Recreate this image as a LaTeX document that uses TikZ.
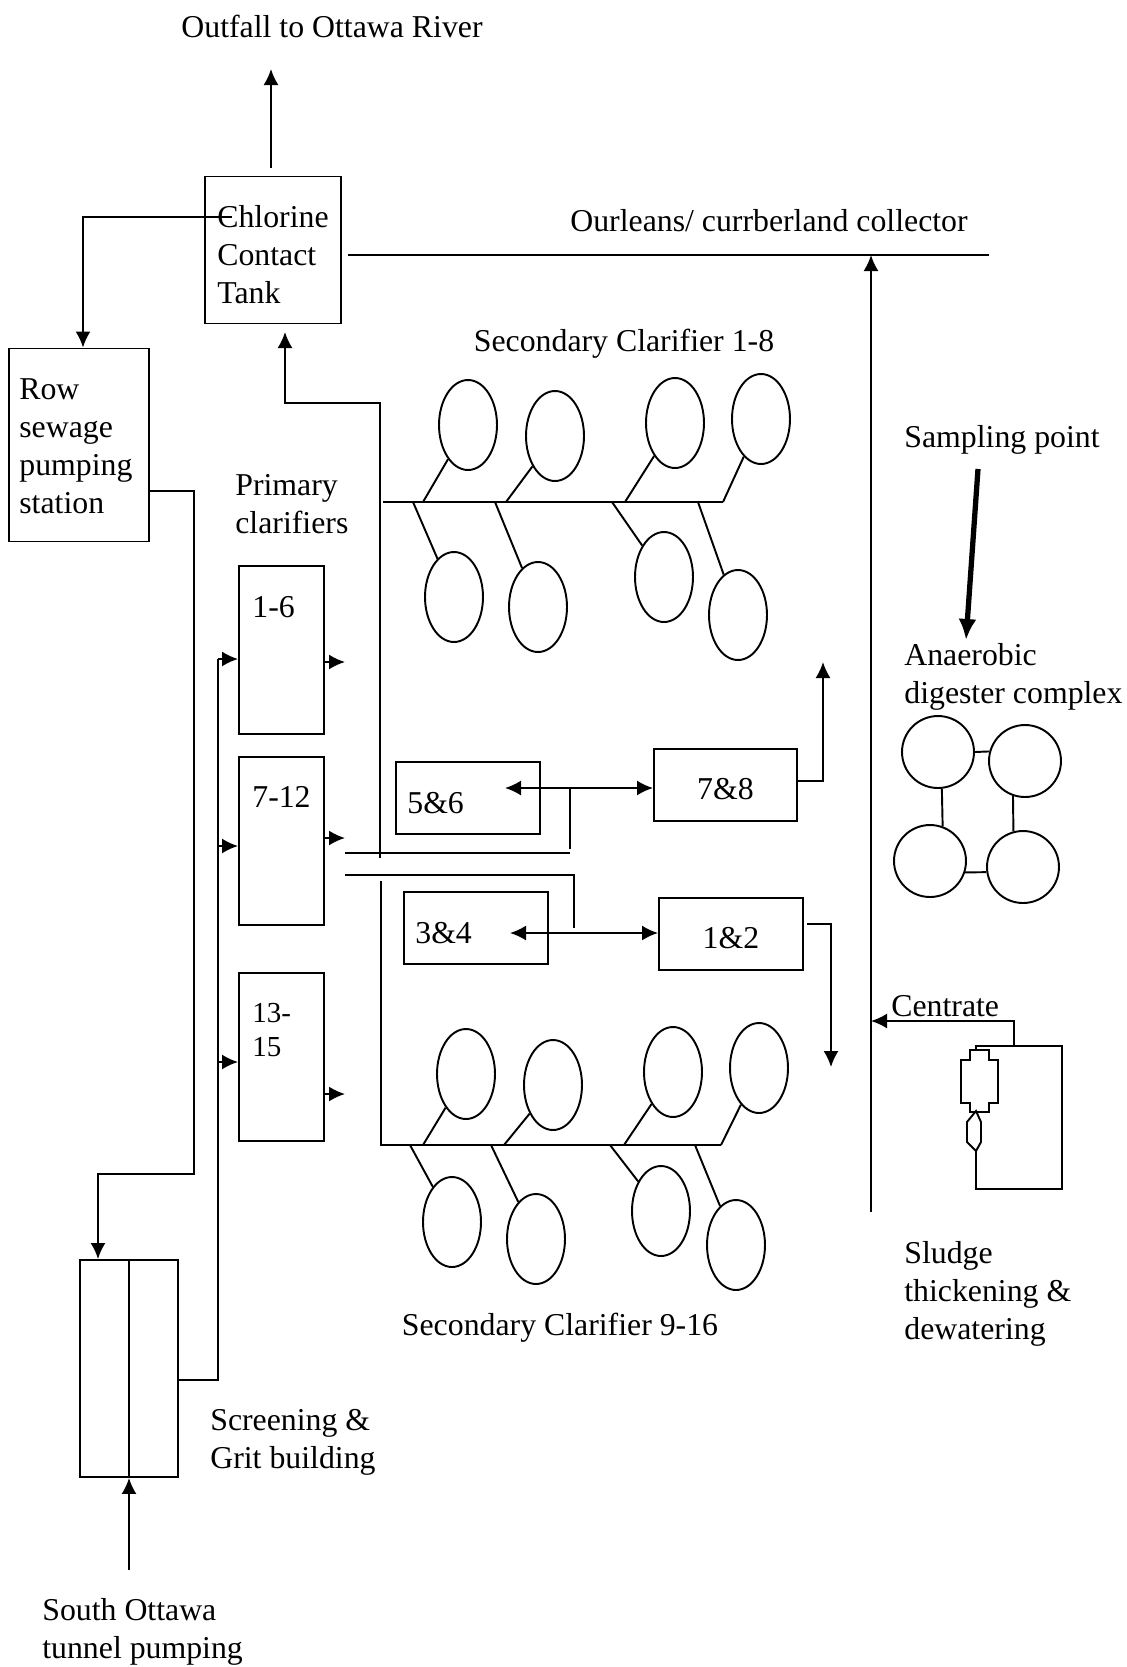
\documentclass[tikz,border=0pt]{standalone}
\usepackage{fontspec}
\setmainfont{Liberation Serif}
\usetikzlibrary{arrows.meta,shapes.geometric}
\tikzset{
  wire/.style={line width=1.1pt},
  flow/.style={wire,-{Latex[length=0.32cm,width=0.3cm]}},
  both/.style={wire,{Latex[length=0.32cm,width=0.3cm]}-{Latex[length=0.32cm,width=0.3cm]}},
  box/.style 2 args={draw,line width=1.1pt,inner sep=0pt,minimum width=#1*0.02cm,minimum height=#2*0.02cm},
  txt/.style={anchor=west,align=left,inner sep=0pt,font=\fontsize{18.1}{21.6}\selectfont},
  ctxt/.style={align=center,inner sep=0pt,font=\fontsize{18.1}{21.6}\selectfont},
  clarifier/.style={draw,line width=1.1pt,ellipse,inner sep=0pt,minimum width=1.16cm,minimum height=1.8cm},
  digester/.style={draw,line width=1.1pt,circle,inner sep=0pt,minimum size=1.44cm}
}
\begin{document}
\begin{tikzpicture}[x=0.02cm,y=-0.02cm]
\useasboundingbox (0,0) rectangle (1126,1667);

\node[box={136}{147}] (tank) at (273,250) {};
\node[box={140}{193}] (row) at (79,445) {};
\node[box={85}{168}] (pc1) at (281.5,650) {};
\node[box={85}{168}] (pc2) at (281.5,841) {};
\node[box={85}{168}] (pc3) at (281.5,1057) {};
\node[box={144}{72}] (b56) at (468,798) {};
\node[box={143}{72},ctxt] (b78) at (725.5,785) {\raisebox{-0.29cm}[0pt][0pt]{7\&8}};
\node[box={144}{72}] (b34) at (476,928) {};
\node[box={144}{72},ctxt] (b12) at (731,934) {\raisebox{-0.29cm}[0pt][0pt]{1\&2}};
\node[box={98}{217}] (screen) at (129,1368.5) {};

\node[ctxt] (outfall) at (332,26) {Outfall to Ottawa River};
\node[txt] (tanklbl) at (217,255) {Chlorine\\Contact\\Tank};
\node[txt] (rowlbl) at (19,446) {Row\\sewage\\pumping\\station};
\node[txt] (pclbl) at (235,504) {Primary\\clarifiers};
\node[txt] (lbl1) at (252,607) {1-6};
\node[txt] (lbl2) at (252,797) {7-12};
\node[txt,font=\fontsize{16.5}{19.2}\selectfont] (lbl3) at (252,1030) {13-\\15};
\node[txt] (lbl56) at (407,803) {5\&6};
\node[txt] (lbl34) at (415,933) {3\&4};
\node[ctxt] (collector) at (769,221) {Ourleans/ currberland collector};
\node[ctxt] (sectop) at (624,344) {Secondary Clarifier 1-8};
\node[ctxt] (secbot) at (560,1328) {Secondary Clarifier 9-16};
\node[ctxt] (sampling) at (1002,440) {Sampling point};
\node[txt] (anaerobic) at (904,677) {Anaerobic\\digester complex};
\node[txt] (centrate) at (891,1006) {Centrate};
\node[txt] (sludge) at (904,1294) {Sludge\\thickening \&\\dewatering};
\node[txt] (grit) at (210,1442) {Screening \&\\Grit building};
\node[txt] (south) at (42,1632) {South Ottawa\\tunnel pumping};

\coordinate (a1) at (271,168);
\coordinate (a2) at (271,69);
\draw[flow] (a1) -- (a2);

\coordinate (b1) at (232,217);
\coordinate (b2) at (83,217);
\draw[flow] (b1) -- (b2) -- (b2 |- row.north);

\coordinate (c0) at (348,255);
\coordinate (c1) at (989,255);
\draw[wire] (c0) -- (c1);
\coordinate (c2) at (871,1212);
\coordinate (c3) at (871,255);
\draw[flow] (c2) -- (c3);

\coordinate (d1) at (380,858);
\coordinate (d2) at (380,403);
\coordinate (d3) at (285,403);
\draw[flow] (d1) -- (d2) -- (d3) -- ++(0,-71);

\coordinate (e1) at (194,491);
\coordinate (e2) at (194,1174);
\coordinate (e3) at (98,1174);
\draw[flow] (row.east |- e1) -- (e1) -- (e2) -- (e3) -- (e3 |- screen.north);
\draw[wire] (screen.north) -- (screen.south);

\coordinate (f1) at (218,1380);
\coordinate (f2) at (218,659);
\draw[wire] (screen.east |- f1) -- (f1) -- (f2);
\foreach \n/\yi/\yo in {1/659/662,2/846/838,3/1062/1094}{
  \coordinate (in\n) at (218,\yi);
  \coordinate (out\n) at (345,\yo);
  \draw[flow] (in\n) -- (pc\n.west |- in\n);
  \draw[flow] (pc\n.east |- out\n) -- (out\n);
}

\coordinate (g1) at (345,853);
\coordinate (g2) at (570,853);
\coordinate (g3) at (570,849);
\coordinate (g4) at (570,788);
\coordinate (tip56) at (505,788);
\draw[wire] (g1) -- (g2);
\draw[wire] (g3) -- (g4);
\draw[both] (tip56) -- (b78.west |- tip56);

\coordinate (h1) at (345,875);
\coordinate (h2) at (574,875);
\coordinate (h3) at (574,928);
\coordinate (tip34) at (510,933);
\draw[wire] (h1) -- (h2) -- (h3);
\draw[both] (tip34) -- (b12.west |- tip34);

\coordinate (k1) at (823,781);
\coordinate (k2) at (823,662);
\draw[flow] (b78.east |- k1) -- (k1) -- (k2);
\coordinate (m0) at (807,924);
\coordinate (m1) at (831,924);
\coordinate (m2) at (831,1067);
\draw[flow] (m0) -- (m1) -- (m2);

\coordinate (n1) at (381,881);
\coordinate (n2) at (381,1145);
\coordinate (n3) at (721,1145);
\draw[wire] (n1) -- (n2) -- (n3);
\coordinate (p1) at (383,502);
\coordinate (p2) at (723,502);
\draw[wire] (p1) -- (p2);

\foreach \n/\x/\y/\f in {1/468/425/423,2/555/436/506,3/675/423/625,4/761/419/723,
                         5/454/597/413,6/538/607/495,7/664/577/612,8/738/615/698}{
  \node[clarifier] (top\n) at (\x,\y) {};
  \coordinate (topf\n) at (\f,502);
  \draw[wire] (topf\n) -- (top\n);
}
\foreach \n/\x/\y/\f in {1/466/1074/423,2/553/1085/504,3/673/1072/624,4/759/1068/721,
                         5/452/1222/410,6/536/1239/491,7/661/1211/610,8/736/1245/695}{
  \node[clarifier] (bot\n) at (\x,\y) {};
  \coordinate (botf\n) at (\f,1145);
  \draw[wire] (botf\n) -- (bot\n);
}

\foreach \n/\x/\y in {1/938/752,2/1025/761,3/930/861,4/1023/867}
  \node[digester] (dg\n) at (\x,\y) {};
\draw[wire] (dg1.0) -- (dg2.165);
\draw[wire] (dg1.-84) -- (dg3.70);
\draw[wire] (dg2.-109) -- (dg4.105);
\draw[wire] (dg3.-18) -- (dg4.188);

\coordinate (s1) at (978,469);
\coordinate (s2) at (966,640);
\draw[line width=3pt,-{Latex[length=0.42cm,width=0.36cm]}] (s1) -- (s2);

\coordinate (q1) at (1014,1046);
\coordinate (q2) at (1014,1021);
\draw[flow] (q1) -- (q2) -- (c3 |- q2);
\draw[wire] (976,1050) -- (976,1046) -- (1062,1046) -- (1062,1189) -- (976,1189) -- (976,1151);
\draw[wire] (976,1111) -- (981,1122) -- (981,1142) -- (976,1151) -- (967,1142) -- (967,1122) -- cycle;
\draw[wire] (970,1112) -- (970,1103) -- (961,1103) -- (961,1060) -- (970,1060) -- (970,1050)
  -- (989,1050) -- (989,1060) -- (998,1060) -- (998,1103) -- (989,1103) -- (989,1112) -- cycle;

\coordinate (t1) at (129,1570);
\draw[flow] (t1) -- (screen.south);
\end{tikzpicture}
\end{document}
